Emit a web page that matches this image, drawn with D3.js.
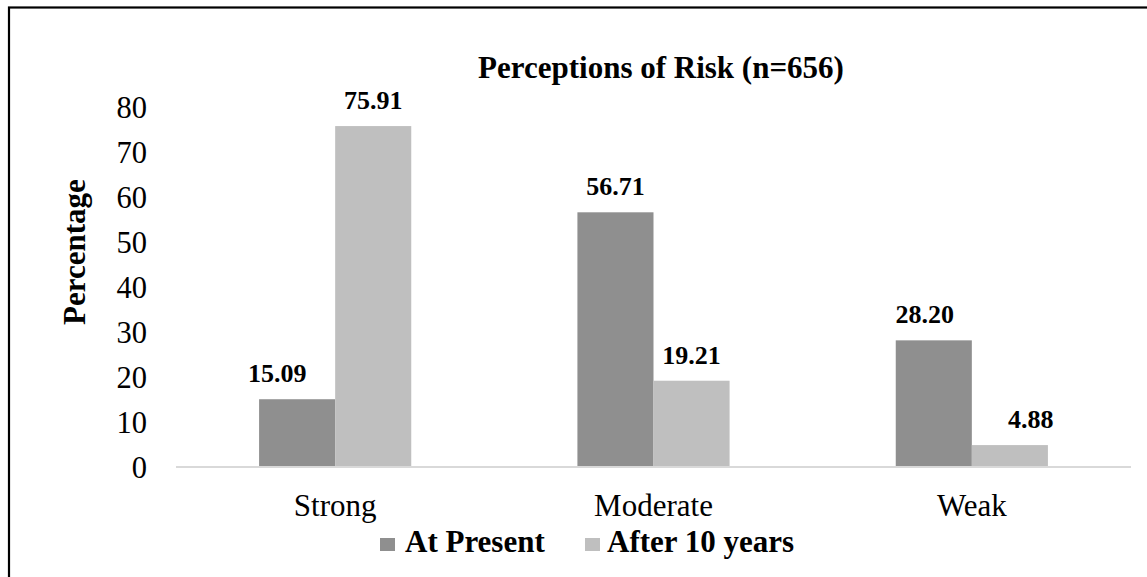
<!DOCTYPE html>
<html>
<head>
<meta charset="utf-8">
<script src="https://cdn.jsdelivr.net/npm/d3@7"></script>
<style>
  html, body { margin: 0; padding: 0; background: #fff; }
  svg { display: block; }
  text { font-family: "Liberation Serif", "Times New Roman", serif; fill: #000; }
</style>
</head>
<body>
<script>
// Perceptions of risk, share of respondents (%)
const categories = ["Strong", "Moderate", "Weak"];
const seriesNames = ["At Present", "After 10 years"];
const atPresent = [15.09, 56.71, 28.20];
const after10Years = [75.91, 19.21, 4.88];
const yTicks = [0, 10, 20, 30, 40, 50, 60, 70, 80];
const seriesColors = ["#8f8f8f", "#bfbfbf"];
// Horizontal nudges for individual value labels (px), per series
const labelNudgeAtPresent = [-20, 0, -9];
const labelNudgeAfter = [0, 0, 21];

const W = 1147, H = 577;
const svg = d3.select("body").append("svg").attr("width", W).attr("height", H);

// Frame around the chart area (extends past the right and bottom edges)
svg.append("rect")
  .attr("x", 9).attr("y", 7.5)
  .attr("width", 1400).attr("height", 800)
  .attr("fill", "none").attr("stroke", "#000").attr("stroke-width", 2.2);

const plot = { left: 176, right: 1131, top: 107.7, bottom: 467 };

const x0 = d3.scaleBand()
  .domain(categories)
  .range([plot.left, plot.right])
  .paddingInner(0.522)
  .paddingOuter(0.261);

const x1 = d3.scaleBand()
  .domain(seriesNames)
  .range([0, x0.bandwidth()]);

const y = d3.scaleLinear().domain([0, 80]).range([plot.bottom, plot.top]);

const rows = categories.map((c, i) => ({
  category: c,
  values: [
    { series: seriesNames[0], value: atPresent[i], nudge: labelNudgeAtPresent[i] },
    { series: seriesNames[1], value: after10Years[i], nudge: labelNudgeAfter[i] }
  ]
}));

const color = d3.scaleOrdinal().domain(seriesNames).range(seriesColors);

// Y axis tick labels
const yAxis = d3.axisLeft(y).tickValues(yTicks).tickSize(0).tickPadding(0).tickFormat(d3.format("d"));
const yg = svg.append("g").attr("transform", `translate(${147},0)`).call(yAxis);
yg.select(".domain").remove();
yg.selectAll("text")
  .attr("x", 0).attr("dy", null)
  .attr("dominant-baseline", "central")
  .style("font-family", "'Liberation Serif', serif")
  .style("font-size", "30.5px").attr("fill", "#000");

// Bars
const groups = svg.append("g").selectAll("g")
  .data(rows).join("g")
  .attr("transform", d => `translate(${x0(d.category)},0)`);

groups.selectAll("rect")
  .data(d => d.values).join("rect")
  .attr("x", d => x1(d.series))
  .attr("y", d => y(d.value))
  .attr("width", x1.bandwidth())
  .attr("height", d => y(0) - y(d.value))
  .attr("fill", d => color(d.series));

// Value labels
groups.selectAll("text.val")
  .data(d => d.values).join("text")
  .attr("class", "val")
  .attr("x", d => x1(d.series) + x1.bandwidth() / 2 + d.nudge)
  .attr("y", d => y(d.value) - 17)
  .attr("text-anchor", "middle")
  .style("font-size", "26px").style("font-weight", "bold")
  .text(d => d.value.toFixed(2));

// Category axis baseline and labels
const xAxis = d3.axisBottom(x0).tickSize(0).tickPadding(0);
const xg = svg.append("g").attr("transform", `translate(0,${plot.bottom})`).call(xAxis);
xg.select(".domain").attr("stroke", "#d9d9d9").attr("stroke-width", 2)
  .attr("d", `M${plot.left},0H${plot.right}`);
xg.selectAll("text")
  .attr("y", 49).attr("dy", null)
  .style("font-family", "'Liberation Serif', serif")
  .style("font-size", "31px").attr("fill", "#000");

// Title
svg.append("text")
  .attr("x", 661).attr("y", 78)
  .attr("text-anchor", "middle")
  .style("font-size", "31px").style("font-weight", "bold")
  .text("Perceptions of Risk (n=656)");

// Y axis title
svg.append("text")
  .attr("transform", `translate(85,${252}) rotate(-90)`)
  .attr("text-anchor", "middle")
  .style("font-size", "31px").style("font-weight", "bold")
  .text("Percentage");

// Legend
const legendItems = [
  { name: seriesNames[0], sx: 380, tx: 405 },
  { name: seriesNames[1], sx: 585, tx: 607 }
];
const lg = svg.append("g");
lg.selectAll("rect")
  .data(legendItems).join("rect")
  .attr("x", d => d.sx).attr("y", 538)
  .attr("width", 15).attr("height", 13)
  .attr("fill", d => color(d.name));
lg.selectAll("text")
  .data(legendItems).join("text")
  .attr("x", d => d.tx).attr("y", 552)
  .style("font-size", "31px").style("font-weight", "bold")
  .text(d => d.name);
</script>
</body>
</html>
